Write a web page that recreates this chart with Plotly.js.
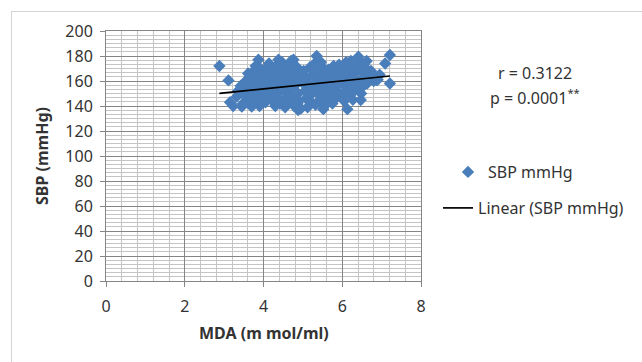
<!DOCTYPE html>
<html>
<head>
<meta charset="utf-8">
<script src="https://cdn.plot.ly/plotly-3.0.1.min.js"></script>
<style>
html,body{margin:0;padding:0;width:642px;height:362px;overflow:hidden;background:#fff;}
#frame{position:absolute;left:11px;top:11px;width:700px;height:400px;border:1px solid #d4d4d4;}
#chart{position:absolute;left:0;top:0;width:642px;height:362px;}
</style>
</head>
<body>
<div id="frame"></div>
<div id="chart"></div>
<script>
// MDA (m mol/ml) values
const mda = [
  2.88,3.11,3.87,5.35,7.21,7.09,7.21,6.47,6.13,5.52,4.88,3.23,3.45,3.70,6.87,6.41,4.76,4.38,3.61,3.32,3.15,3.90,
  3.35,3.42,3.50,3.55,3.58,3.48,3.62,3.65,3.68,
  3.72,3.75,3.78,3.82,3.85,3.88,3.92,3.95,3.98,4.00,3.80,3.90,
  4.03,4.05,4.08,4.10,4.12,4.15,4.18,4.20,4.22,4.25,4.28,4.30,4.06,4.14,4.26,
  4.33,4.35,4.38,4.40,4.42,4.45,4.48,4.50,4.52,4.55,4.58,4.60,4.36,4.47,4.57,
  4.63,4.65,4.68,4.70,4.72,4.75,4.78,4.80,4.82,4.85,4.88,4.90,4.92,4.95,4.98,4.70,4.86,
  5.02,5.05,5.08,5.10,5.12,5.15,5.18,5.20,5.22,5.25,5.28,5.30,5.32,5.35,5.38,5.40,
  5.43,5.45,5.48,5.50,5.52,5.55,5.58,5.60,5.62,5.65,5.68,5.70,5.72,5.75,5.78,5.46,5.64,
  5.80,5.83,5.85,5.88,5.90,5.92,5.95,5.98,6.00,6.03,6.05,6.08,6.10,6.12,6.15,6.18,6.20,
  6.22,6.25,6.28,6.30,6.32,6.35,6.38,6.40,6.43,6.45,6.48,6.50,6.53,6.55,6.58,6.27,
  6.60,6.63,6.66,6.70,6.73,6.76,6.80,6.85,6.90,6.62,6.95
];
// SBP (mmHg) values
const sbp = [
  172,160.5,177,180,180.8,174,158,144.8,137.5,137.5,136.8,140,139.5,139.5,160.8,179.5,177,177,166,147.5,143,140,
  152,156,149,160,144,142,153,163,147,
  158,168,150,143,162,155,170,147,160,152,172,165,
  167,143,158,171,149,163,155,145,168,152,160,140,150,174,165,
  172,147,157,165,142,153,170,160,145,139,166,150,162,175,156,
  173,143,161,154,168,147,140,163,157,171,150,144,165,138,159,176,142,
  168,152,146,162,139,157,171,149,143,165,155,174,141,160,150,168,
  145,163,156,171,148,140,166,153,144,169,158,149,163,142,172,175,160,
  155,146,167,160,151,173,164,148,170,157,144,166,175,153,162,170,149,
  176,158,166,152,172,161,155,169,176,160,150,167,156,173,163,145,
  170,158,166,162,168,164,160,163,161,176,165
];
// Linear trend line end points
const trendX = [2.88, 7.21];
const trendY = [150.1, 164];

const xTickVals = [0, 2, 4, 6, 8];
const yTickVals = [0, 20, 40, 60, 80, 100, 120, 140, 160, 180, 200];

const seriesName = 'SBP mmHg';
const trendName = 'Linear (SBP mmHg)';
const rText = 'r = 0.3122';
const pText = 'p = 0.0001<sup>**</sup>';
const xTitle = 'MDA (m mol/ml)';
const yTitle = 'SBP (mmHg)';

const FONT = 'Noto Sans, Open Sans, sans-serif';
const TXT = '#333333';
const FS = 16;

const traces = [
  {
    x: mda, y: sbp, type: 'scatter', mode: 'markers', name: seriesName,
    marker: {symbol: 'diamond', size: 9.5, color: '#4A7EBB', line: {width: 0}},
    legend: 'legend'
  },
  {
    x: trendX, y: trendY, type: 'scatter', mode: 'lines', name: trendName,
    line: {color: '#000000', width: 1.7},
    legend: 'legend2'
  }
];

const W = 642, H = 362, L = 106, R = 221, T = 31, B = 81;
const pw = W - L - R, ph = H - T - B;
const px2x = px => (px - L) / pw;
const py2y = py => (H - B - py) / ph;

const layout = {
  width: W, height: H,
  margin: {l: L, r: R, t: T, b: B, pad: 0},
  paper_bgcolor: 'rgba(0,0,0,0)',
  plot_bgcolor: '#ffffff',
  font: {family: FONT, size: FS, color: TXT},
  xaxis: {
    range: [0, 8], tickvals: xTickVals, ticktext: xTickVals.map(String),
    showgrid: true, gridcolor: '#858585', gridwidth: 1,
    minor: {dtick: 0.4, tick0: 0, showgrid: true, gridcolor: '#c4c4c4', gridwidth: 1, ticks: ''},
    ticks: 'outside', ticklen: 5, tickcolor: '#858585', ticklabelstandoff: 6,
    showline: true, linecolor: '#858585', linewidth: 1, mirror: true,
    zeroline: false, tickfont: {family: FONT, size: FS, color: TXT}
  },
  yaxis: {
    range: [0, 200], tickvals: yTickVals, ticktext: yTickVals.map(String),
    showgrid: true, gridcolor: '#858585', gridwidth: 1,
    minor: {dtick: 20 / 6, tick0: 0, showgrid: true, gridcolor: '#c4c4c4', gridwidth: 1, ticks: ''},
    ticks: 'outside', ticklen: 5, tickcolor: '#858585', ticklabelstandoff: 4,
    showline: true, linecolor: '#858585', linewidth: 1, mirror: true,
    zeroline: false, tickfont: {family: FONT, size: FS, color: TXT}
  },
  showlegend: true,
  legend: {
    x: px2x(448), y: py2y(172), xanchor: 'left', yanchor: 'middle',
    bgcolor: 'rgba(0,0,0,0)', font: {family: FONT, size: FS, color: TXT}
  },
  legend2: {
    x: px2x(438), y: py2y(208), xanchor: 'left', yanchor: 'middle',
    bgcolor: 'rgba(0,0,0,0)', font: {family: FONT, size: FS, color: TXT}
  },
  annotations: [
    {text: rText, xref: 'paper', yref: 'paper', x: px2x(535), y: py2y(73), showarrow: false,
     xanchor: 'center', yanchor: 'middle', font: {family: FONT, size: FS, color: TXT}},
    {text: pText, xref: 'paper', yref: 'paper', x: px2x(535), y: py2y(97), showarrow: false,
     xanchor: 'center', yanchor: 'middle', font: {family: FONT, size: FS, color: TXT}},
    {text: '<b>' + xTitle + '</b>', xref: 'paper', yref: 'paper', x: 0.5, y: py2y(333), showarrow: false,
     xanchor: 'center', yanchor: 'middle', font: {family: FONT, size: FS, color: TXT}},
    {text: '<b>' + yTitle + '</b>', xref: 'paper', yref: 'paper', x: px2x(42), y: 0.5, showarrow: false,
     textangle: -90, xanchor: 'center', yanchor: 'middle', font: {family: FONT, size: FS, color: TXT}}
  ]
};

Plotly.newPlot('chart', traces, layout, {displayModeBar: false, staticPlot: true});
</script>
</body>
</html>
